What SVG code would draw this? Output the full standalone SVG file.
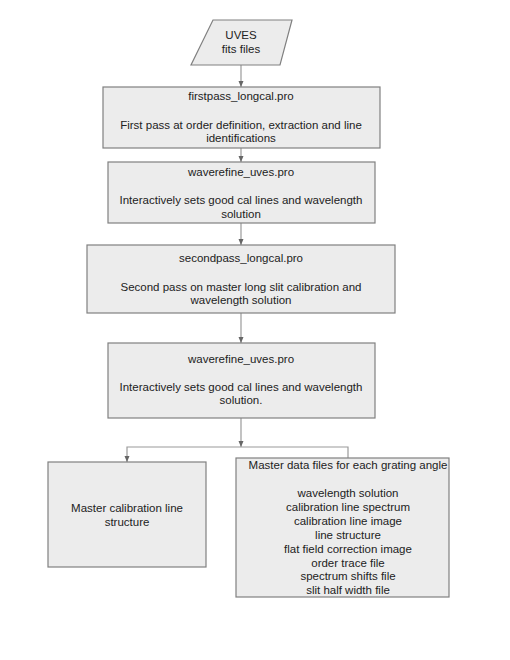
<svg xmlns="http://www.w3.org/2000/svg" width="510" height="660" viewBox="0 0 510 660">
<defs>
<marker id="ah" viewBox="0 0 6 6" refX="6" refY="3" markerWidth="6" markerHeight="6" markerUnits="userSpaceOnUse" orient="auto">
<path d="M0,0.5 L6,3 L0,5.5 Z" fill="#666"/>
</marker>
</defs>
<style>
.box{fill:#ececec;stroke:#808080;stroke-width:1.2}
.t{font-family:"Liberation Sans",Arial,sans-serif;font-size:11.5px;fill:#222;text-anchor:middle}
.c{fill:none;stroke:#9a9a9a;stroke-width:1.2}
</style>
<rect width="510" height="660" fill="#fff"/>
<g id="connectors">
<path class="c" d="M241,65 V87" marker-end="url(#ah)"/>
<path class="c" d="M241,148 V162" marker-end="url(#ah)"/>
<path class="c" d="M241,223 V245" marker-end="url(#ah)"/>
<path class="c" d="M241,313 V343" marker-end="url(#ah)"/>
<path class="c" d="M241,418 V447" marker-end="url(#ah)"/>
<path class="c" d="M348,458 V447 H127 V462" marker-end="url(#ah)"/>
</g>
<g id="uves">
<polygon class="box" points="213,20 292,20 280,65 191,65"/>
<text class="t" x="241" y="39">UVES</text>
<text class="t" x="241" y="53">fits files</text>
</g>
<g id="firstpass">
<rect class="box" x="103" y="87" width="277" height="61"/>
<text class="t" x="241" y="100">firstpass_longcal.pro</text>
<text class="t" x="241" y="129">First pass at order definition, extraction and line</text>
<text class="t" x="241" y="142">identifications</text>
</g>
<g id="waverefine1">
<rect class="box" x="108" y="162" width="267" height="61"/>
<text class="t" x="241" y="176">waverefine_uves.pro</text>
<text class="t" x="241" y="204">Interactively sets good cal lines and wavelength</text>
<text class="t" x="241" y="218">solution</text>
</g>
<g id="secondpass">
<rect class="box" x="87" y="245" width="308" height="68"/>
<text class="t" x="241" y="262">secondpass_longcal.pro</text>
<text class="t" x="241" y="291">Second pass on master long slit calibration and</text>
<text class="t" x="241" y="304">wavelength solution</text>
</g>
<g id="waverefine2">
<rect class="box" x="108" y="343" width="267" height="75"/>
<text class="t" x="241" y="363">waverefine_uves.pro</text>
<text class="t" x="241" y="391">Interactively sets good cal lines and wavelength</text>
<text class="t" x="241" y="404">solution.</text>
</g>
<g id="mastercal">
<rect class="box" x="48" y="462" width="158" height="105"/>
<text class="t" x="127" y="512">Master calibration line</text>
<text class="t" x="127" y="526">structure</text>
</g>
<g id="masterdata">
<rect class="box" x="236" y="458" width="213" height="139"/>
<text class="t" x="348" y="469">Master data files for each grating angle</text>
<text class="t" x="348" y="497">wavelength solution</text>
<text class="t" x="348" y="511">calibration line spectrum</text>
<text class="t" x="348" y="525">calibration line image</text>
<text class="t" x="348" y="539">line structure</text>
<text class="t" x="348" y="553">flat field correction image</text>
<text class="t" x="348" y="567">order trace file</text>
<text class="t" x="348" y="580">spectrum shifts file</text>
<text class="t" x="348" y="594">slit half width file</text>
</g>
</svg>
